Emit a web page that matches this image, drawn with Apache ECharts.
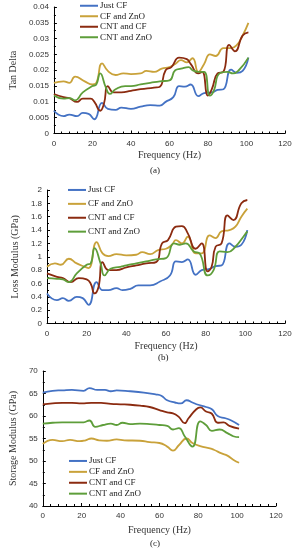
<!DOCTYPE html>
<html><head><meta charset="utf-8">
<script src="https://cdn.jsdelivr.net/npm/echarts@6/dist/echarts.min.js"></script>
<style>html,body{margin:0;padding:0;background:#fff}#c{width:296px;height:550px}</style>
</head><body><div id="c"></div>
<script>
const seriesNames = ['Just CF','CF and ZnO','CNT and CF','CNT and ZnO'];
const colors = ['#4472C4','#C9A23A','#8B2B10','#5E9E3A'];
const xTicks = {min:0,max:120,interval:20};

// (a) Tan Delta
const tanJustCF = [[0,0.0072],[5,0.0055],[8,0.006],[12,0.0055],[15,0.0065],[18,0.0062],[21,0.0045],[25,0.0097],[28,0.0078],[32,0.0075],[35,0.0082],[40,0.0078],[45,0.0085],[50,0.009],[55,0.0088],[58,0.01],[62,0.0115],[65,0.015],[68,0.0148],[71,0.0155],[75,0.0118],[78,0.0128],[82,0.013],[85,0.0138],[88,0.014],[92,0.0202],[95,0.0192],[98,0.0198],[101,0.024]];
const tanCFZnO = [[0,0.016],[5,0.0165],[8,0.016],[11,0.018],[16,0.0165],[20,0.0155],[22,0.016],[25,0.0222],[28,0.0198],[32,0.0185],[36,0.019],[40,0.0188],[45,0.019],[48,0.0198],[52,0.0195],[56,0.0205],[60,0.021],[63,0.022],[66,0.0232],[69,0.0225],[72,0.0238],[75,0.0195],[78,0.022],[81,0.025],[84,0.0245],[88,0.027],[92,0.027],[95,0.028],[98,0.031],[101,0.035]];
const tanCNTCF = [[0,0.0125],[5,0.0115],[8,0.0112],[12,0.01],[15,0.011],[19,0.011],[21,0.01],[24,0.0072],[26,0.0095],[28,0.015],[31,0.013],[35,0.013],[40,0.0135],[45,0.014],[52,0.0145],[55,0.0148],[58,0.02],[61,0.021],[65,0.024],[69,0.0235],[71,0.022],[75,0.019],[77,0.0195],[80,0.012],[82,0.014],[85,0.019],[88,0.0195],[91,0.028],[94,0.026],[98,0.031],[101,0.032]];
const tanCNTZnO = [[0,0.012],[5,0.011],[8,0.0112],[11,0.0105],[15,0.013],[20,0.015],[22,0.0155],[24,0.019],[27,0.0145],[29,0.0125],[32,0.014],[37,0.015],[40,0.015],[45,0.0155],[50,0.016],[55,0.0165],[60,0.0168],[63,0.02],[66,0.0205],[70,0.021],[72,0.02],[75,0.0195],[78,0.0195],[81,0.012],[83,0.0135],[86,0.019],[90,0.0195],[93,0.019],[96,0.02],[101,0.024]];

// (b) Loss Modulus
const lossJustCF = [[0,0.45],[5,0.35],[8,0.38],[11,0.34],[15,0.4],[18,0.38],[21,0.28],[25,0.62],[28,0.5],[31,0.5],[35,0.53],[38,0.5],[42,0.52],[46,0.57],[52,0.57],[57,0.63],[62,0.72],[65,0.93],[68,0.92],[71,0.96],[75,0.73],[78,0.8],[82,0.82],[85,0.86],[88,0.87],[92,1.2],[95,1.15],[98,1.18],[101,1.4]];
const lossCFZnO = [[0,0.85],[4,0.9],[7,0.88],[11,0.97],[15,0.9],[19,0.85],[21,0.83],[25,1.22],[28,1.05],[31,1.01],[35,1.04],[40,1.02],[45,1.03],[48,1.07],[52,1.04],[56,1.1],[60,1.12],[63,1.18],[65,1.25],[68,1.2],[71,1.3],[75,1.05],[78,1.05],[82,1.32],[85,1.28],[88,1.38],[92,1.4],[95,1.45],[98,1.6],[101,1.72]];
const lossCNTCF = [[0,0.75],[5,0.7],[8,0.68],[12,0.62],[16,0.68],[20,0.66],[22,0.6],[24,0.45],[26,0.55],[28,0.92],[31,0.8],[35,0.8],[40,0.84],[45,0.87],[50,0.9],[55,0.92],[58,1.2],[61,1.25],[65,1.45],[68,1.46],[71,1.35],[75,1.12],[78,1.2],[81,0.78],[83,0.85],[85,1.15],[88,1.2],[91,1.62],[94,1.55],[98,1.8],[101,1.85]];
const lossCNTZnO = [[0,0.68],[5,0.67],[8,0.66],[11,0.62],[15,0.75],[20,0.88],[22,0.9],[24,1.13],[27,0.9],[29,0.72],[32,0.82],[37,0.85],[40,0.87],[45,0.9],[50,0.93],[55,0.96],[60,0.98],[64,1.2],[67,1.18],[70,1.2],[74,1.08],[77,1.05],[81,0.72],[84,0.8],[87,1.08],[91,1.07],[95,1.15],[99,1.3],[101,1.38]];

// (c) Storage Modulus
const stoJustCF = [[0,65.2],[5,65.6],[10,65.7],[15,65.8],[21,65.6],[24,66.2],[28,65.8],[32,65.8],[35,65.5],[38,65.7],[45,65.5],[52,65.2],[58,64.8],[61,64.5],[64,63.5],[68,63.0],[71,62.8],[74,63.5],[77,63.0],[80,62.5],[84,62.0],[87,61.5],[90,60.0],[94,59.5],[97,59.0],[101,58.0]];
const stoCFZnO = [[0,53.8],[5,54.7],[10,54.4],[14,54.7],[19,54.4],[22,54.6],[25,55.0],[29,54.6],[33,54.5],[38,54.8],[42,54.6],[50,54.5],[55,54.2],[60,54.0],[64,53.2],[67,52.3],[70,53.5],[74,55.0],[77,54.0],[81,53.3],[86,52.8],[88,52.5],[92,51.7],[95,51.2],[98,50.3],[101,49.6]];
const stoCNTCF = [[0,62.6],[5,62.8],[10,62.9],[15,62.9],[20,62.8],[25,62.9],[30,62.9],[35,62.7],[40,62.6],[45,62.5],[50,62.3],[55,62.0],[60,61.3],[64,60.8],[67,60.6],[70,59.8],[73,58.4],[75,59.5],[79,61.5],[81,61.9],[84,61.0],[87,60.5],[90,58.5],[93,58.6],[96,57.8],[101,57.2]];
const stoCNTZnO = [[0,58.3],[5,58.5],[10,58.6],[15,58.6],[21,58.6],[24,59.0],[27,57.6],[31,58.0],[35,58.3],[38,58.0],[41,58.5],[45,58.2],[50,58.3],[55,58.2],[60,58.0],[64,57.8],[67,57.0],[70,57.3],[73,55.5],[77,53.2],[81,58.8],[84,58.0],[87,56.7],[91,57.0],[95,56.2],[98,55.5],[101,55.3]];

const serif = '"Liberation Serif","DejaVu Serif",serif';
const sans = '"Liberation Sans","DejaVu Sans",sans-serif';

function xAx(idx, gap){
  return {type:'value', gridIndex:idx, min:xTicks.min, max:xTicks.max, interval:xTicks.interval,
    name:'Frequency (Hz)', nameLocation:'middle', nameGap:gap,
    nameTextStyle:{fontFamily:serif, fontSize:10, color:'#333'},
    axisLine:{lineStyle:{color:'#000', width:1}},
    axisTick:{show:true, inside:true, length:3, lineStyle:{color:'#000'}},
    minorTick:{show:true, splitNumber:5, length:2, lineStyle:{color:'#000'}},
    axisLabel:{fontFamily:sans, fontSize:8, color:'#333', margin:6},
    splitLine:{show:false}};
}
function yAx(idx, name, min, max, interval, gap){
  return {type:'value', gridIndex:idx, min:min, max:max, interval:interval,
    name:name, nameLocation:'middle', nameGap:gap,
    nameTextStyle:{fontFamily:serif, fontSize:10, color:'#333'},
    axisLine:{show:true, lineStyle:{color:'#000', width:1}},
    axisTick:{show:true, inside:true, length:3, lineStyle:{color:'#000'}},
    minorTick:{show:true, splitNumber:2, length:2, lineStyle:{color:'#000'}},
    axisLabel:{fontFamily:sans, fontSize:8, color:'#333', margin:5},
    splitLine:{show:false}};
}
function mk(name, data, ci, idx){
  return {name:name, type:'line', xAxisIndex:idx, yAxisIndex:idx, data:data,
    smooth:0.5, symbol:'none', color:colors[ci], lineStyle:{width:1.8, color:colors[ci]}};
}
function lg(left, top, lh){
  return {data:seriesNames, orient:'vertical', left:left, top:top, icon:'rect', itemWidth:18, itemHeight:2,
    itemGap:0, padding:0, selectedMode:false,
    textStyle:{fontFamily:serif, fontSize:9, color:'#222', lineHeight:lh, padding:[0,0,0,-3]}};
}

const chart = echarts.init(document.getElementById('c'), null, {renderer:'canvas'});
chart.setOption({
  animation:false,
  grid:[
    {left:42, right:11, top:7, height:126.5},
    {left:47, right:11, top:190, height:133.5},
    {left:33, right:20, top:371, height:135}
  ],
  xAxis:[xAx(0,17), xAx(1,17.5), xAx(2,19)],
  yAxis:[
    yAx(0,'Tan Delta',0,0.04,0.005,32),
    yAx(1,'Loss Modulus (GPa)',0,2,0.2,23),
    yAx(2,'Storage Modulus (GPa)',40,70,5,19)
  ],
  legend:[lg(80,0.5,10.5), lg(68,183,13.9), lg(69,455.5,10.9)],
  series:[
    mk('Just CF',tanJustCF,0,0), mk('CF and ZnO',tanCFZnO,1,0), mk('CNT and CF',tanCNTCF,2,0), mk('CNT and ZnO',tanCNTZnO,3,0),
    mk('Just CF',lossJustCF,0,1), mk('CF and ZnO',lossCFZnO,1,1), mk('CNT and CF',lossCNTCF,2,1), mk('CNT and ZnO',lossCNTZnO,3,1),
    mk('Just CF',stoJustCF,0,2), mk('CF and ZnO',stoCFZnO,1,2), mk('CNT and CF',stoCNTCF,2,2), mk('CNT and ZnO',stoCNTZnO,3,2)
  ],
  graphic:[
    {type:'text', left:150, top:166, style:{text:'(a)', font:'9px '+serif, fill:'#222'}},
    {type:'text', left:158, top:353, style:{text:'(b)', font:'9px '+serif, fill:'#222'}},
    {type:'text', left:150, top:539, style:{text:'(c)', font:'9px '+serif, fill:'#222'}}
  ]
});
</script></body></html>
